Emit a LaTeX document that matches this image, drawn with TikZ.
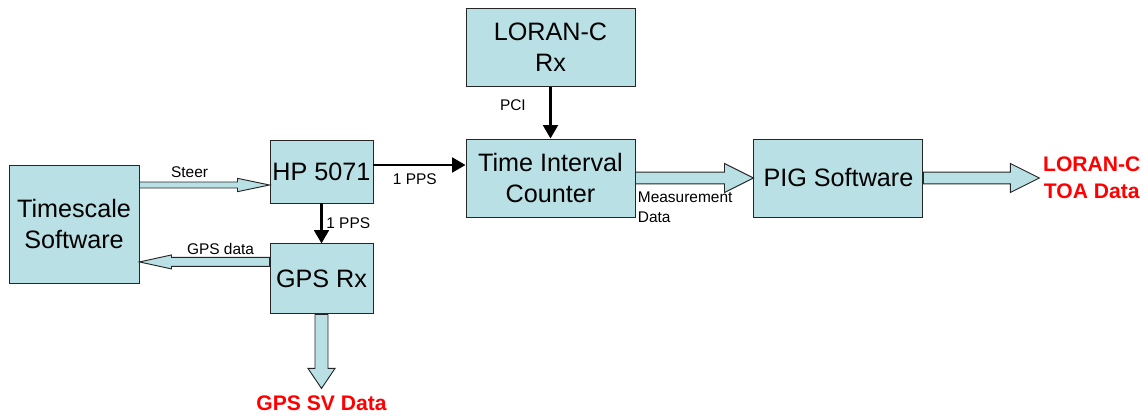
\documentclass[tikz,border=0pt]{standalone}
\usepackage{fontspec}
\setmainfont{Liberation Sans}
\usetikzlibrary{positioning,calc,arrows.meta}
\definecolor{celeste}{RGB}{185,224,228}
\definecolor{rojo}{RGB}{255,0,0}
\tikzset{
	bloque/.style={rectangle, draw=black!85, line width=0.8pt, fill=celeste,
		font=\fontsize{21.5}{26}\selectfont, align=center, inner sep=0pt},
	rotulo/.style={font=\fontsize{13.2}{17}\selectfont, inner sep=1pt},
	salida/.style={text=rojo, font=\bfseries\fontsize{18}{23}\selectfont,
		align=center, inner sep=1pt},
	senal/.style={line width=2.2pt, -{Triangle[length=0.4cm,width=0.44cm]}},
	hueca/.style={draw=black!85, line width=0.8pt, fill=celeste}
}
% flecha hueca: origen, destino, medio ancho cuerpo, medio ancho punta, largo punta
\newcommand{\flechahueca}[5]{%
	\coordinate (fo) at (#1);
	\coordinate (fd) at (#2);
	\coordinate (fb) at ($(fd)!#5!(fo)$);
	\draw[hueca] ($(fo)!#3!90:(fd)$) -- ($(fb)!#3!-90:(fo)$) -- ($(fb)!#4!-90:(fo)$) -- (fd)
		-- ($(fb)!#4!90:(fo)$) -- ($(fb)!#3!90:(fo)$) -- ($(fo)!#3!-90:(fd)$) -- cycle;
}

\begin{document}
\begin{tikzpicture}[x=0.03cm,y=-0.03cm]
			\useasboundingbox (0,0) rectangle (1143,419);
			
			\node[bloque, minimum width=3.9cm, minimum height=3.54cm] (ts) at (74,224) {Timescale\\Software};
			\node[bloque, minimum width=3.09cm, minimum height=1.89cm] (hp) at (321.5,171.5) {HP 5071};
			\node[bloque, minimum width=3.09cm, minimum height=2.1cm, below=1.2cm of hp] (gps) {GPS Rx};
			
			\node[bloque, minimum width=5.07cm, minimum height=2.34cm] (tic) at (550.5,178) {Time Interval\\Counter};
			\node[bloque, minimum width=5.07cm, minimum height=2.34cm, above=1.56cm of tic] (loran) {LORAN-C\\Rx};
			\node[bloque, minimum width=5.07cm, minimum height=2.34cm, right=3.54cm of tic] (pig) {PIG Software};
			
			\coordinate (toa) at ($(pig.east)+(116,0)$);
			\coordinate (sv) at ($(gps.south)+(0,74)$);
			
			% senales 1 PPS y PCI
			\draw[senal] (hp.south) -- node[rotulo, right=2pt] {1 PPS} (gps.north);
			\draw[senal] ($(hp.east)+(0,-6.5)$) coordinate (pps) -- node[rotulo, below=5pt, pos=0.45] {1 PPS} (pps -| tic.west);
			\draw[senal] (loran.south) -- node[rotulo, left=19pt, pos=0.35] {PCI} (tic.north);
			
			% flechas de datos
			\coordinate (st) at ($(hp.west)+(0,13.5)$);
			\flechahueca{ts.east |- st}{st}{0.09cm}{0.2cm}{0.96cm}
			\node[rotulo] (steer) at ($(st)+(-80,-13)$) {Steer};
			
			\coordinate (gd) at ($(gps.west)+(0,-17)$);
			\flechahueca{gd}{ts.east |- gd}{0.135cm}{0.21cm}{0.96cm}
			\node[rotulo] (gpsdata) at ($(gd)+(-49,-13)$) {GPS data};
			
			\flechahueca{tic.east}{pig.west}{0.175cm}{0.435cm}{0.87cm}
			\node[rotulo, align=left, anchor=west] (meas) at ($(tic.east)+(1,29)$) {Measurement\\Data};
			
			\flechahueca{pig.east}{toa}{0.175cm}{0.435cm}{0.87cm}
			\node[salida, right=2pt of toa] (toadata) {LORAN-C\\TOA Data};
			
			\flechahueca{gps.south}{sv}{0.195cm}{0.405cm}{0.6cm}
			\node[salida, below=5pt of sv] (svdata) {GPS SV Data};
		\end{tikzpicture}
\end{document}
